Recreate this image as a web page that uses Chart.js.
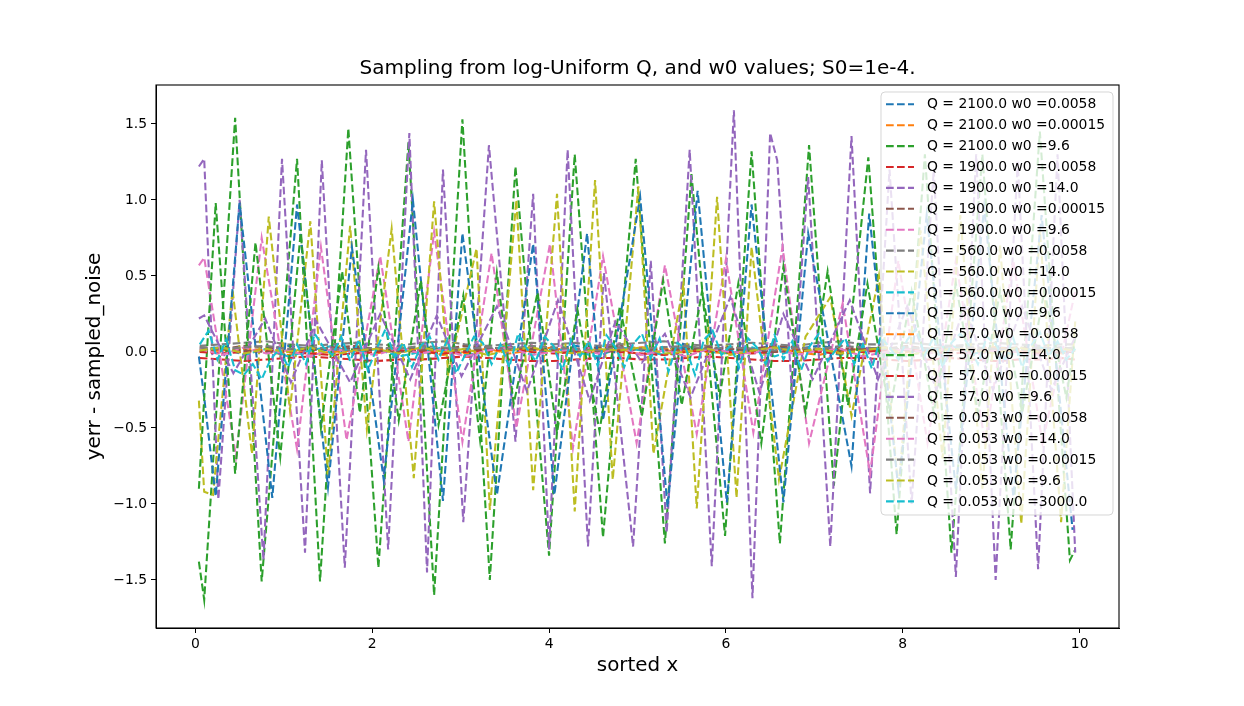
<!DOCTYPE html>
<html>
<head>
<meta charset="utf-8">
<script src="https://cdn.jsdelivr.net/npm/chart.js@4.4.1/dist/chart.umd.min.js"></script>
<style>
  html, body { margin: 0; padding: 0; background: #ffffff; }
  #wrap { width: 1244px; height: 706px; }
</style>
</head>
<body>
<div id="wrap"><canvas id="c" width="1244" height="706"></canvas></div>
<script>
// ---------------- DATA ----------------
const chartTitle = 'Sampling from log-Uniform Q, and w0 values; S0=1e-4.';
const xLabel = 'sorted x';
const yLabel = 'yerr - sampled_noise';
const xTickVals = [0, 2, 4, 6, 8, 10];
const xTickLabels = ['0', '2', '4', '6', '8', '10'];
const yTickVals = [-1.5, -1.0, -0.5, 0.0, 0.5, 1.0, 1.5];
const yTickLabels = ['\u22121.5', '\u22121.0', '\u22120.5', '0.0', '0.5', '1.0', '1.5'];

const legendLabels = [
  'Q = 2100.0 w0 =0.0058', 'Q = 2100.0 w0 =0.00015', 'Q = 2100.0 w0 =9.6',
  'Q = 1900.0 w0 =0.0058', 'Q = 1900.0 w0 =14.0', 'Q = 1900.0 w0 =0.00015',
  'Q = 1900.0 w0 =9.6', 'Q = 560.0 w0 =0.0058', 'Q = 560.0 w0 =14.0',
  'Q = 560.0 w0 =0.00015', 'Q = 560.0 w0 =9.6', 'Q = 57.0 w0 =0.0058',
  'Q = 57.0 w0 =14.0', 'Q = 57.0 w0 =0.00015', 'Q = 57.0 w0 =9.6',
  'Q = 0.053 w0 =0.0058', 'Q = 0.053 w0 =14.0', 'Q = 0.053 w0 =0.00015',
  'Q = 0.053 w0 =9.6', 'Q = 0.053 w0 =3000.0'
];

// shared x for the near-flat series
const xs41 = [0.05,0.30,0.55,0.80,1.05,1.30,1.55,1.80,2.05,2.30,2.55,2.80,3.05,3.30,3.55,3.80,4.05,4.30,4.55,4.80,5.05,5.30,5.55,5.80,6.05,6.30,6.55,6.80,7.05,7.30,7.55,7.80,8.05,8.30,8.55,8.80,9.05,9.30,9.55,9.80,9.95];
const xs100 = [
  0.05,0.15,0.25,0.35,0.45,0.55,0.65,0.75,0.85,0.95,
  1.05,1.15,1.25,1.35,1.45,1.55,1.65,1.75,1.85,1.95,
  2.05,2.15,2.25,2.35,2.45,2.55,2.65,2.75,2.85,2.95,
  3.05,3.15,3.25,3.35,3.45,3.55,3.65,3.75,3.85,3.95,
  4.05,4.15,4.25,4.35,4.45,4.55,4.65,4.75,4.85,4.95,
  5.05,5.15,5.25,5.35,5.45,5.55,5.65,5.75,5.85,5.95,
  6.05,6.15,6.25,6.35,6.45,6.55,6.65,6.75,6.85,6.95,
  7.05,7.15,7.25,7.35,7.45,7.55,7.65,7.75,7.85,7.95,
  8.05,8.15,8.25,8.35,8.45,8.55,8.65,8.75,8.85,8.95,
  9.05,9.15,9.25,9.35,9.45,9.55,9.65,9.75,9.85,9.95
];

// 0: Q=2100 w0=0.0058
const s0Y = [0.02,0.03,0.01,0.02,0.04,0.02,0.01,0.03,0.02,0.02,0.03,0.01,0.02,0.03,0.02,0.01,0.02,0.04,0.02,0.03,0.01,0.02,0.03,0.02,0.01,0.02,0.03,0.02,0.04,0.02,0.01,0.02,0.03,0.02,0.02,0.01,0.03,0.02,0.02,0.03,0.02];
// 1: Q=2100 w0=0.00015
const s1Y = [0.01,-0.01,0.02,0.0,-0.02,0.01,0.03,0.0,-0.01,0.02,0.01,-0.02,0.0,0.02,-0.01,0.01,0.03,-0.01,0.0,0.02,-0.02,0.01,0.0,0.02,-0.01,0.01,0.03,0.0,-0.02,0.01,0.02,-0.01,0.0,0.01,0.02,-0.01,0.01,0.0,0.02,-0.01,0.01];
// 2: Q=2100 w0=9.6
const s2X = [0.04,0.10,0.45,0.75,1.15,1.41,1.73,2.07,2.41,2.70,3.02,3.33,3.62,4.00,4.29,4.61,4.98,5.31,5.61,5.99,6.29,6.61,6.94,7.22,7.61,7.93,8.25,8.55,8.90,9.22,9.55,9.89,9.95];
const s2Y = [-1.38,-1.63,1.54,-1.51,1.27,-1.51,1.47,-1.42,1.38,-1.60,1.53,-1.50,1.22,-1.34,1.30,-1.22,1.27,-1.26,1.17,-1.21,1.32,-1.26,1.36,-0.88,1.28,-1.20,1.30,-1.32,1.30,-1.30,1.45,-1.37,-1.30];
// 3: Q=1900 w0=0.0058
const s3Y = [-0.04,-0.05,-0.06,-0.05,-0.04,-0.03,-0.04,-0.05,-0.06,-0.05,-0.05,-0.04,-0.03,-0.04,-0.05,-0.06,-0.06,-0.05,-0.04,-0.04,-0.05,-0.05,-0.04,-0.03,-0.04,-0.05,-0.06,-0.06,-0.05,-0.04,-0.04,-0.05,-0.06,-0.05,-0.04,-0.05,-0.06,-0.05,-0.05,-0.04,-0.05];
// 4: Q=1900 w0=14.0
const s4X = [0.04,0.10,0.26,0.50,0.77,0.98,1.24,1.43,1.69,1.93,2.18,2.42,2.62,2.80,3.03,3.32,3.62,3.82,4.00,4.21,4.44,4.62,4.95,5.15,5.33,5.59,5.84,6.09,6.30,6.50,6.58,6.75,6.93,7.18,7.42,7.63,7.85,8.10,8.35,8.60,8.83,9.05,9.30,9.53,9.75,9.95];
const s4Y = [1.22,1.27,-0.97,1.00,-1.37,1.27,-1.32,1.26,-1.42,1.33,-1.30,1.44,-1.45,1.20,-1.12,1.36,-0.59,1.04,-1.30,1.33,-1.28,0.52,-1.28,0.60,-1.19,1.33,-1.41,1.59,-1.62,1.44,1.26,-0.30,1.15,-1.28,1.42,-0.93,1.20,-1.00,1.20,-1.48,1.30,-1.50,1.25,-1.43,1.30,-1.32];
// 5: Q=1900 w0=0.00015
const s5Y = [0.03,0.02,0.04,0.03,0.02,0.01,0.03,0.04,0.02,0.03,0.01,0.02,0.04,0.03,0.02,0.03,0.01,0.02,0.03,0.04,0.02,0.03,0.01,0.02,0.03,0.02,0.04,0.03,0.01,0.02,0.03,0.02,0.04,0.02,0.03,0.01,0.02,0.03,0.02,0.03,0.02];
// 6: Q=1900 w0=9.6
const s6X = [0.04,0.10,0.46,0.75,1.15,1.42,1.71,2.09,2.41,2.70,3.02,3.35,3.63,4.01,4.27,4.61,4.99,5.31,5.67,6.00,6.31,6.64,6.94,7.32,7.63,7.95,8.28,8.60,8.93,9.25,9.58,9.95];
const s6Y = [0.57,0.62,-0.69,0.75,-0.64,0.69,-0.58,0.63,-0.59,0.79,-0.59,0.65,-0.50,0.71,-0.63,0.63,-0.60,0.57,-0.54,0.61,-0.53,0.69,-0.60,0.32,-0.80,0.60,-0.60,0.60,-0.60,0.60,-0.60,0.40];
// 7: Q=560 w0=0.0058
const s7Y = [0.04,0.05,0.06,0.07,0.05,0.04,0.05,0.06,0.05,0.04,0.06,0.07,0.05,0.04,0.05,0.06,0.05,0.06,0.04,0.05,0.06,0.07,0.05,0.04,0.05,0.06,0.05,0.04,0.06,0.07,0.05,0.05,0.06,0.05,0.04,0.05,0.06,0.05,0.04,0.05,0.05];
// 8: Q=560 w0=14.0
const s8X = [0.04,0.10,0.20,0.42,0.64,0.83,1.07,1.30,1.50,1.75,1.94,2.22,2.47,2.70,2.86,3.18,3.33,3.63,3.82,4.09,4.29,4.52,4.72,5.01,5.18,5.52,5.67,5.90,6.12,6.29,6.60,6.90,7.18,7.42,7.73,7.95,8.20,8.45,8.65,8.90,9.10,9.34,9.55,9.79,9.95];
const s8Y = [-0.32,-0.92,-0.94,0.41,-0.67,0.89,-0.38,0.86,-0.82,0.83,-0.51,0.81,-0.83,0.99,-0.14,0.68,-1.04,1.00,-0.91,1.04,-1.05,1.13,-0.84,1.09,-0.67,0.45,-1.03,1.02,-0.96,0.69,-0.84,0.10,0.36,-0.42,0.50,-0.90,0.80,-0.70,0.90,-0.90,0.70,-1.13,0.80,-1.12,0.20];
// 9: Q=560 w0=0.00015
const s9Y = [0.0,0.03,-0.02,0.02,-0.03,0.01,0.04,-0.01,0.02,-0.03,0.0,0.03,-0.02,0.01,0.04,-0.02,0.02,0.0,-0.03,0.03,0.01,-0.02,0.04,0.0,-0.01,0.03,-0.03,0.02,0.01,-0.02,0.03,0.0,-0.03,0.02,0.04,-0.01,0.01,-0.02,0.03,0.0,0.02];
// 10: Q=560 w0=9.6
const s10X = [0.04,0.10,0.23,0.50,0.87,1.15,1.50,1.77,2.13,2.46,2.80,3.02,3.41,3.82,4.06,4.43,4.61,5.03,5.34,5.68,6.01,6.29,6.65,6.93,7.42,7.62,7.95,8.27,8.60,8.92,9.25,9.57,9.92];
const s10Y = [-0.03,-0.30,-0.95,0.98,-0.96,0.97,-0.89,0.69,-0.84,1.00,-0.98,0.78,-0.94,0.71,-0.94,0.78,-0.45,1.02,-1.02,1.06,-0.99,0.97,-0.99,0.78,-0.75,0.91,-0.90,0.90,-0.90,0.95,-0.95,0.90,-1.17];
// 11: Q=57 w0=0.0058
const s11Y = [0.0,0.01,0.02,0.01,0.0,-0.01,0.0,0.01,0.02,0.02,0.01,0.0,-0.01,0.0,0.01,0.02,0.01,0.0,0.01,0.02,0.03,0.02,0.01,0.0,-0.01,0.0,0.01,0.02,0.01,0.0,0.01,0.02,0.01,0.0,0.01,0.02,0.03,0.01,0.0,0.01,0.01];
// 12: Q=57 w0=14.0
const s12X = [0.04,0.23,0.45,0.68,0.96,1.19,1.42,1.66,1.86,2.07,2.30,2.55,2.75,3.03,3.22,3.41,3.60,3.87,4.09,4.32,4.57,4.80,5.05,5.29,5.50,5.73,5.93,6.14,6.40,6.65,6.90,7.15,7.38,7.60,7.85,8.10,8.35,8.60,8.85,9.10,9.35,9.60,9.85,9.95];
const s12Y = [-0.90,0.98,-0.80,0.72,-0.69,0.78,-0.50,0.53,-0.40,0.55,-0.45,0.47,-0.48,0.37,-0.58,0.52,-0.34,0.39,-0.53,0.28,-0.52,0.30,-0.42,0.47,-0.35,0.40,-0.29,0.45,-0.60,0.56,-0.40,0.53,-0.35,0.45,-0.40,0.40,-0.40,0.45,-0.40,0.40,-0.40,0.40,-0.30,0.10];
// 13: Q=57 w0=0.00015
const s13Y = [0.0,-0.01,0.0,0.01,0.0,-0.01,-0.02,-0.01,0.0,0.01,0.0,-0.01,0.0,0.01,0.02,0.0,-0.01,0.0,0.01,0.0,-0.01,-0.02,0.0,0.01,0.0,-0.01,0.0,0.01,0.0,-0.01,0.0,0.01,0.02,0.0,-0.01,0.0,0.01,0.0,-0.01,0.0,0.0];
// 14: Q=57 w0=9.6
const s14X = [0.04,0.10,0.43,0.79,1.08,1.37,1.75,2.09,2.43,2.73,3.01,3.41,3.75,4.10,4.46,4.75,5.05,5.31,5.60,6.05,6.38,6.65,6.98,7.40,7.72,8.05,8.38,8.70,9.02,9.35,9.68,9.95];
const s14Y = [0.22,0.24,-0.14,0.22,-0.20,0.20,-0.20,0.25,-0.18,0.24,-0.16,0.30,-0.26,0.34,-0.32,0.20,-0.07,0.12,-0.30,0.36,-0.27,0.25,-0.18,0.34,-0.18,0.30,-0.25,0.30,-0.25,0.30,-0.25,0.10];
// 15: Q=0.053 w0=0.0058
const s15Y = [0.01,0.02,0.01,0.0,0.01,0.02,0.03,0.02,0.01,0.0,0.01,0.02,0.01,0.02,0.03,0.02,0.01,0.01,0.0,0.01,0.02,0.01,0.02,0.03,0.02,0.01,0.0,0.01,0.02,0.01,0.02,0.03,0.01,0.0,0.01,0.02,0.01,0.02,0.01,0.0,0.01];
// 16: Q=0.053 w0=14.0
const s16Y = [0.02,-0.02,0.03,-0.01,0.01,-0.03,0.02,0.0,-0.02,0.03,-0.01,0.02,-0.03,0.01,0.03,-0.02,0.0,0.02,-0.01,0.03,-0.02,0.01,-0.03,0.02,0.0,-0.01,0.03,-0.02,0.01,0.02,-0.03,0.0,0.02,-0.01,0.03,-0.02,0.01,0.0,-0.02,0.02,0.0];
// 17: Q=0.053 w0=0.00015
const s17Y = [0.03,0.02,0.03,0.04,0.02,0.03,0.02,0.01,0.03,0.02,0.04,0.03,0.02,0.03,0.02,0.04,0.03,0.02,0.01,0.03,0.02,0.03,0.04,0.02,0.03,0.02,0.01,0.03,0.02,0.04,0.03,0.02,0.03,0.02,0.04,0.03,0.02,0.01,0.03,0.02,0.03];
// 18: Q=0.053 w0=9.6
const s18Y = [0.01,0.03,-0.01,0.02,0.0,0.03,-0.02,0.01,0.02,-0.01,0.03,0.0,0.02,-0.02,0.01,0.03,0.0,-0.01,0.02,0.01,0.03,-0.01,0.0,0.02,-0.02,0.01,0.03,0.0,0.02,-0.01,0.01,0.03,-0.02,0.0,0.02,0.01,-0.01,0.03,0.0,0.02,0.01];
// 19: Q=0.053 w0=3000
const s19Y = [
  0.05,0.14,-0.05,0.08,-0.12,-0.15,-0.08,-0.18,-0.05,0.02,
  -0.10,0.05,-0.08,0.12,0.03,-0.02,0.10,-0.06,0.08,-0.12,
  0.02,0.15,-0.03,0.06,-0.10,0.04,0.10,-0.05,0.08,-0.14,
  -0.02,0.10,0.06,-0.08,0.05,-0.10,0.12,0.02,-0.06,0.10,
  0.04,-0.12,0.08,-0.03,0.07,-0.09,0.11,0.03,-0.10,0.05,
  0.12,-0.04,0.09,-0.13,0.06,0.02,-0.15,0.08,0.14,-0.02,
  0.04,-0.10,0.09,0.03,-0.08,0.11,-0.05,0.07,-0.12,0.04,
  0.12,-0.06,0.02,0.09,-0.08,0.05,-0.11,0.10,0.03,-0.05,
  0.08,0.15,-0.02,0.10,-0.10,0.06,0.12,0.04,-0.08,0.10,
  0.05,-0.06,0.09,-0.10,0.04,0.13,-0.03,0.07,-0.05,0.02
];

const seriesX = [xs41, xs41, s2X, xs41, s4X, xs41, s6X, xs41, s8X, xs41, s10X, xs41, s12X, xs41, s14X, xs41, xs41, xs41, xs41, xs100];
const seriesY = [s0Y, s1Y, s2Y, s3Y, s4Y, s5Y, s6Y, s7Y, s8Y, s9Y, s10Y, s11Y, s12Y, s13Y, s14Y, s15Y, s16Y, s17Y, s18Y, s19Y];

// ---------------- STYLE ----------------
const tab10 = ['#1f77b4','#ff7f0e','#2ca02c','#d62728','#9467bd','#8c564b','#e377c2','#7f7f7f','#bcbd22','#17becf'];
const LW = 2.08;
const DASH = [7.7, 3.3];
const FONT = '"DejaVu Sans", "Liberation Sans", sans-serif';

function pairXY(xa, ya) {
  const n = Math.min(xa.length, ya.length);
  const out = [];
  for (let i = 0; i < n; i++) out.push({ x: xa[i], y: ya[i] });
  return out;
}

const datasets = legendLabels.map((lab, i) => ({
  label: lab,
  data: pairXY(seriesX[i], seriesY[i]),
  borderColor: tab10[i % 10],
  backgroundColor: tab10[i % 10],
  borderWidth: LW,
  borderDash: DASH,
  pointRadius: 0,
  pointHoverRadius: 0,
  fill: false,
  tension: 0,
  order: -i
}));

const decorPlugin = {
  id: 'decor',
  afterDatasetsDraw(chart) {
    const { ctx, chartArea: a } = chart;
    ctx.save();
    // axes frame (all four spines)
    ctx.setLineDash([]);
    ctx.strokeStyle = '#000';
    ctx.lineWidth = 1.1;
    ctx.strokeRect(a.left, a.top, a.right - a.left, a.bottom - a.top);

    // legend box
    const bx = a.right - 238, by = a.top + 7, bw = 232, bh = 423, r = 4;
    ctx.beginPath();
    ctx.moveTo(bx + r, by);
    ctx.lineTo(bx + bw - r, by);
    ctx.arcTo(bx + bw, by, bx + bw, by + r, r);
    ctx.lineTo(bx + bw, by + bh - r);
    ctx.arcTo(bx + bw, by + bh, bx + bw - r, by + bh, r);
    ctx.lineTo(bx + r, by + bh);
    ctx.arcTo(bx, by + bh, bx, by + bh - r, r);
    ctx.lineTo(bx, by + r);
    ctx.arcTo(bx, by, bx + r, by, r);
    ctx.closePath();
    ctx.fillStyle = 'rgba(255,255,255,0.8)';
    ctx.fill();
    ctx.strokeStyle = 'rgba(204,204,204,0.8)';
    ctx.lineWidth = 1;
    ctx.stroke();

    ctx.font = '13.9px ' + FONT;
    ctx.textBaseline = 'middle';
    ctx.textAlign = 'left';
    chart.data.datasets.forEach((ds, i) => {
      const yc = by + 12.3 + i * 20.9;
      ctx.beginPath();
      ctx.setLineDash(DASH);
      ctx.strokeStyle = ds.borderColor;
      ctx.lineWidth = LW;
      ctx.moveTo(bx + 5, yc);
      ctx.lineTo(bx + 33, yc);
      ctx.stroke();
      ctx.setLineDash([]);
      ctx.fillStyle = '#000';
      ctx.fillText(ds.label, bx + 46, yc + 0.5);
    });
    ctx.restore();
  },
  afterDraw(chart) {
    const { ctx, chartArea: a } = chart;
    const cx = (a.left + a.right) / 2;
    const cy = (a.top + a.bottom) / 2;
    ctx.save();
    ctx.fillStyle = '#000';
    ctx.textAlign = 'center';
    ctx.textBaseline = 'middle';
    ctx.font = '20px ' + FONT;
    ctx.fillText(chartTitle, cx, a.top - 16);
    ctx.font = '19.9px ' + FONT;
    ctx.fillText(xLabel, cx, a.bottom + 38);
    ctx.translate(a.left - 61, cy);
    ctx.rotate(-Math.PI / 2);
    ctx.fillText(yLabel, 0, 0);
    ctx.restore();
  }
};

new Chart(document.getElementById('c'), {
  type: 'line',
  data: { datasets },
  plugins: [decorPlugin],
  options: {
    responsive: false,
    animation: false,
    devicePixelRatio: 1,
    layout: { padding: { left: 96, right: 125, top: 85, bottom: 38 } },
    plugins: {
      legend: { display: false },
      title: { display: false },
      tooltip: { enabled: false }
    },
    scales: {
      x: {
        type: 'linear',
        min: -0.445,
        max: 10.445,
        afterFit: (s) => { s.height = 40; },
        afterBuildTicks: (s) => { s.ticks = xTickVals.map(v => ({ value: v })); },
        grid: { display: true, drawOnChartArea: false, drawTicks: true, tickLength: 5, color: '#000', lineWidth: 1 },
        border: { display: true, color: '#000', width: 1 },
        ticks: {
          autoSkip: false, maxRotation: 0, padding: 3, color: '#000',
          font: { family: FONT, size: 13.9 },
          callback: (v, i) => xTickLabels[i]
        }
      },
      y: {
        type: 'linear',
        min: -1.816,
        max: 1.756,
        afterFit: (s) => { s.width = 60; },
        afterBuildTicks: (s) => { s.ticks = yTickVals.map(v => ({ value: v })); },
        grid: { display: true, drawOnChartArea: false, drawTicks: true, tickLength: 5, color: '#000', lineWidth: 1 },
        border: { display: true, color: '#000', width: 1 },
        ticks: {
          autoSkip: false, padding: 4, color: '#000',
          font: { family: FONT, size: 13.9 },
          callback: (v, i) => yTickLabels[i]
        }
      }
    }
  }
});
</script>
</body>
</html>
